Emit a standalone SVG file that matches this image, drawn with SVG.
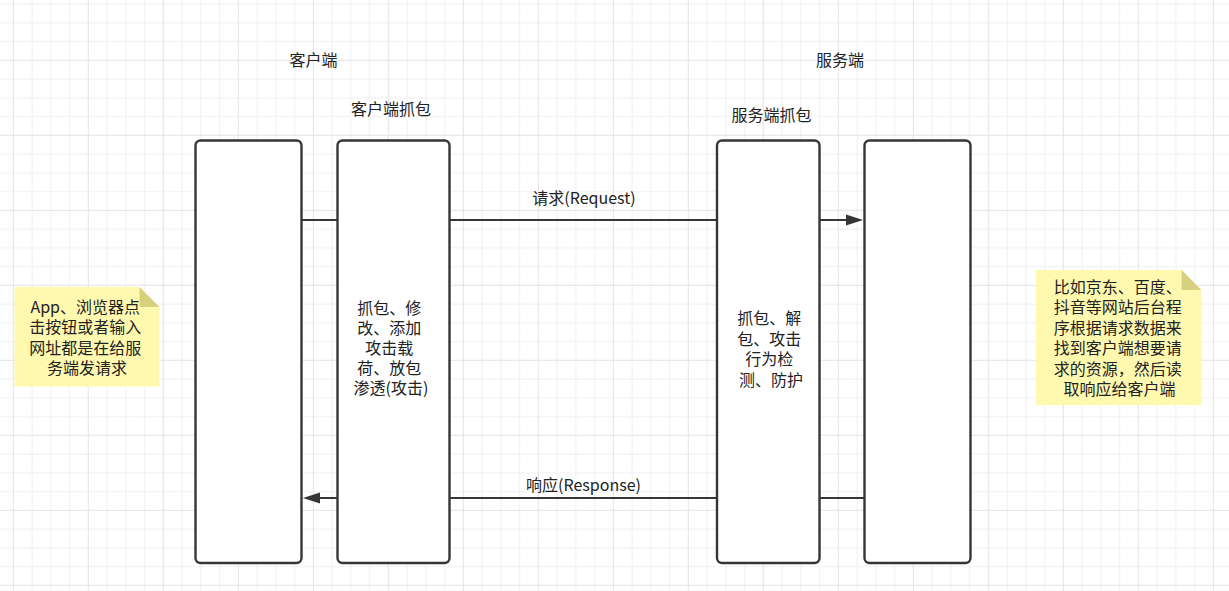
<svg xmlns="http://www.w3.org/2000/svg" width="1229" height="591" viewBox="0 0 1229 591">
  <style>
    .box { fill: #ffffff; stroke: #363636; stroke-width: 2.4; }
    .edge { fill: none; stroke: #363636; stroke-width: 2.2; }
    .head { fill: #363636; stroke: none; }
    .t { font-family: "Microsoft YaHei", "Noto Sans CJK SC", "Noto Sans", sans-serif; font-size: 16px; fill: #222222; text-anchor: middle; }
    .note { fill: #FFF9B0; stroke: none; }
    .fold { fill: #D6D17E; stroke: none; }
  </style>
  <defs>
    <pattern id="grid" patternUnits="userSpaceOnUse" x="12.8" y="59.8" width="75" height="75">
      <rect x="0" y="0" width="75" height="75" fill="#ffffff"/>
      <rect x="18.75" y="0" width="1" height="75" fill="#f0f0f0"/>
      <rect x="37.5" y="0" width="1" height="75" fill="#f0f0f0"/>
      <rect x="56.25" y="0" width="1" height="75" fill="#f0f0f0"/>
      <rect x="0" y="18.75" width="75" height="1" fill="#f0f0f0"/>
      <rect x="0" y="37.5" width="75" height="1" fill="#f0f0f0"/>
      <rect x="0" y="56.25" width="75" height="1" fill="#f0f0f0"/>
      <rect x="0" y="0" width="1" height="75" fill="#e3e3e3"/>
      <rect x="0" y="0" width="75" height="1" fill="#e3e3e3"/>
    </pattern>
  </defs>
  <rect x="0" y="0" width="1229" height="591" fill="url(#grid)"/>

  <g id="connectors">
    <line class="edge" x1="301.5" y1="220" x2="848" y2="220"/>
    <polygon class="head" points="863,220 846,214.5 846,225.5"/>
    <text class="t" x="584" y="203.5">请求(Request)</text>
    <line class="edge" x1="864" y1="498" x2="318" y2="498"/>
    <polygon class="head" points="303,498 320,492.5 320,503.5"/>
    <text class="t" x="583.5" y="491">响应(Response)</text>
  </g>

  <g id="client-label"><text class="t" x="313.5" y="65.7">客户端</text></g>
  <g id="server-label"><text class="t" x="840" y="65.7">服务端</text></g>
  <g id="client-capture-label"><text class="t" x="391" y="115">客户端抓包</text></g>
  <g id="server-capture-label"><text class="t" x="771.5" y="121">服务端抓包</text></g>

  <g id="client">
    <rect class="box" x="195.5" y="140.5" width="106" height="422.5" rx="5" ry="5"/>
  </g>
  <g id="client-capture">
    <rect class="box" x="337.5" y="140.5" width="112" height="422.5" rx="5" ry="5"/>
    <text class="t">
      <tspan x="391" y="314.3">抓包、修</tspan>
      <tspan x="391" y="334.3">改、添加</tspan>
      <tspan x="391" y="354.3">攻击载</tspan>
      <tspan x="391" y="374.3">荷、放包</tspan>
      <tspan x="391" y="394.3">渗透(攻击)</tspan>
    </text>
  </g>
  <g id="server-capture">
    <rect class="box" x="717" y="140.5" width="102.5" height="422.5" rx="5" ry="5"/>
    <text class="t">
      <tspan x="771" y="324.3">抓包、解</tspan>
      <tspan x="771" y="344.8">包、攻击</tspan>
      <tspan x="771" y="365.3">行为检</tspan>
      <tspan x="771" y="385.8">测、防护</tspan>
    </text>
  </g>
  <g id="server">
    <rect class="box" x="864.5" y="140.5" width="106" height="422.5" rx="5" ry="5"/>
  </g>

  <g id="note-client">
    <path class="note" d="M14.5,287 H139.5 L159.5,307 V386.5 H14.5 Z"/>
    <path class="fold" d="M139.5,287 L159.5,307 H139.5 Z"/>
    <text class="t">
      <tspan x="87" y="312.5">App、浏览器点</tspan>
      <tspan x="87" y="333">击按钮或者输入</tspan>
      <tspan x="87" y="353.5">网址都是在给服</tspan>
      <tspan x="87" y="374">务端发请求</tspan>
    </text>
  </g>
  <g id="note-server">
    <path class="note" d="M1036,270 H1181.5 L1201.5,290 V405 H1036 Z"/>
    <path class="fold" d="M1181.5,270 L1201.5,290 H1181.5 Z"/>
    <text class="t">
      <tspan x="1119.5" y="293">比如京东、百度、</tspan>
      <tspan x="1119.5" y="313.4">抖音等网站后台程</tspan>
      <tspan x="1119.5" y="333.8">序根据请求数据来</tspan>
      <tspan x="1119.5" y="354.2">找到客户端想要请</tspan>
      <tspan x="1119.5" y="374.6">求的资源，然后读</tspan>
      <tspan x="1119.5" y="395">取响应给客户端</tspan>
    </text>
  </g>
</svg>
